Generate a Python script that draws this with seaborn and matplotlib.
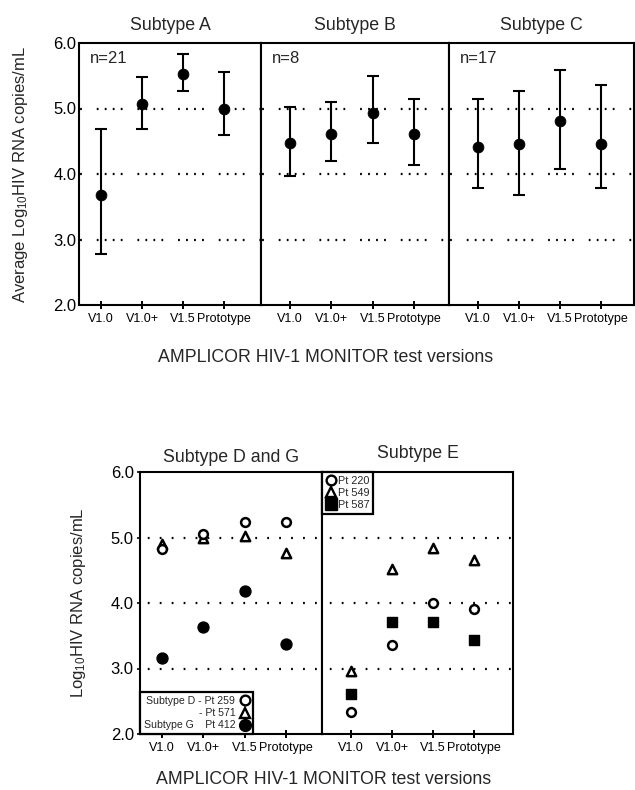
import numpy as np
import pandas as pd
import matplotlib.pyplot as plt
import seaborn as sns
from matplotlib.lines import Line2D

# Values
versions = ["V1.0", "V1.0+", "V1.5", "Prototype"]
top_titles = ["Subtype A", "Subtype B", "Subtype C"]
n_labels = ["n=21", "n=8", "n=17"]

mean_a = [3.68, 5.07, 5.53, 4.99]
low_a = [2.78, 4.69, 5.27, 4.59]
high_a = [4.69, 5.48, 5.83, 5.56]

mean_b = [4.47, 4.61, 4.93, 4.61]
low_b = [3.97, 4.20, 4.47, 4.14]
high_b = [5.02, 5.10, 5.50, 5.15]

mean_c = [4.41, 4.46, 4.81, 4.46]
low_c = [3.79, 3.68, 4.08, 3.79]
high_c = [5.15, 5.26, 5.59, 5.36]

bottom_titles = ["Subtype D and G", "Subtype E"]
pt259 = [4.82, 5.05, 5.24, 5.24]
pt571 = [4.90, 4.99, 5.02, 4.76]
pt412 = [3.16, 3.63, 4.18, 3.37]
pt220 = [2.34, 3.36, 4.00, 3.91]
pt549 = [2.96, 4.52, 4.84, 4.66]
pt587 = [2.61, 3.71, 3.71, 3.43]

sns.set_theme(style="ticks")
plt.rcParams['font.family'] = ['Liberation Sans', 'DejaVu Sans']
plt.rcParams['mathtext.fontset'] = 'custom'
plt.rcParams['mathtext.rm'] = 'Liberation Sans'
plt.rcParams['mathtext.it'] = 'Liberation Sans:italic'
plt.rcParams['lines.scale_dashes'] = False

W, H = 635, 790
fig = plt.figure(figsize=(W / 100, H / 100), dpi=100)


def box(l, t, r, b):
    return [l / W, 1 - b / H, (r - l) / W, (b - t) / H]


def style_axes(ax, xlim, show_y, dots, ytick_len):
    ax.set_xlim(*xlim)
    ax.set_ylim(2.0, 6.0)
    ax.set_xticks(range(len(versions)))
    ax.set_xticklabels(versions, fontsize=9)
    ax.set_yticks([2, 3, 4, 5, 6])
    ax.set_yticklabels(["2.0", "3.0", "4.0", "5.0", "6.0"], fontsize=12)
    ax.tick_params(axis='x', direction='inout', length=6, width=1.4, pad=2.5, colors='black')
    ax.tick_params(axis='y', length=ytick_len, width=1.2, pad=2, colors='black')
    if not show_y:
        ax.tick_params(axis='y', left=False, labelleft=False)
    for sp in ax.spines.values():
        sp.set_visible(True)
        sp.set_linewidth(1.5)
        sp.set_color('black')
    for yv in [3, 4, 5]:
        ax.axhline(yv, color='black', lw=1.6, linestyle=dots, zorder=0)
    ax.set(xlabel='', ylabel='')


# ---------------- top figure ----------------
top_boxes = [(79, 43, 261, 305), (261, 43, 449, 305), (449, 43, 634, 305)]
top_xlims = [(-0.54, 3.90), (-0.70, 3.85), (-0.71, 3.80)]
top_data = [(mean_a, low_a, high_a), (mean_b, low_b, high_b), (mean_c, low_c, high_c)]
group_dots = (16.5, (1.3, 4.46, 1.3, 4.46, 1.3, 4.46, 1.3, 10.7))

top_axes = []
for i, (m, lo, hi) in enumerate(top_data):
    ax = fig.add_axes(box(*top_boxes[i]))
    df = pd.DataFrame({'pos': np.arange(len(versions)), 'mean': m, 'low': lo, 'high': hi})
    ax.errorbar(df['pos'], df['mean'],
                yerr=[df['mean'] - df['low'], df['high'] - df['mean']],
                fmt='none', ecolor='black', elinewidth=1.5, capsize=4.5, capthick=1.5, zorder=2)
    sns.scatterplot(data=df, x='pos', y='mean', ax=ax, s=60, color='black',
                    edgecolor='black', zorder=3, legend=False)
    style_axes(ax, top_xlims[i], i == 0, group_dots, 0)
    ax.set_title(top_titles[i], fontsize=12.8, pad=9)
    ax.text(0.06, 0.94, n_labels[i], transform=ax.transAxes, fontsize=12,
            ha='left', va='center')
    top_axes.append(ax)

top_axes[0].set_ylabel("Average Log$_{10}$HIV RNA copies/mL", fontsize=12)
top_axes[0].yaxis.set_label_coords(-0.27, 0.5)
fig.text(326 / W, 1 - 357 / H, "AMPLICOR HIV-1 MONITOR test versions",
         ha='center', va='center', fontsize=12.8)

# ---------------- bottom figure ----------------
even_dots = (3.0, (1.3, 7.3))
ax_dg = fig.add_axes(box(140, 472, 322, 734))
ax_e = fig.add_axes(box(322, 472, 513, 734))

open_kw = dict(color='white', edgecolor='black', linewidth=1.8)
fill_kw = dict(color='black', edgecolor='black', linewidth=1)
pos = np.arange(len(versions))

sns.scatterplot(x=pos, y=pt571, ax=ax_dg, marker='^', s=45, zorder=3, **open_kw)
sns.scatterplot(x=pos, y=pt259, ax=ax_dg, marker='o', s=40, zorder=4, **open_kw)
sns.scatterplot(x=pos, y=pt412, ax=ax_dg, marker='o', s=62, zorder=3, **fill_kw)

sns.scatterplot(x=pos, y=pt220, ax=ax_e, marker='o', s=40, zorder=3, **open_kw)
sns.scatterplot(x=pos, y=pt549, ax=ax_e, marker='^', s=45, zorder=3, **open_kw)
sns.scatterplot(x=pos, y=pt587, ax=ax_e, marker='s', s=52, zorder=3, **fill_kw)

style_axes(ax_dg, (-0.53, 3.87), True, even_dots, 2.5)
style_axes(ax_e, (-0.71, 3.95), False, even_dots, 2.5)
ax_dg.set_title(bottom_titles[0], fontsize=12.8, pad=7)
ax_e.set_title(bottom_titles[1], fontsize=12.8, pad=10)
ax_dg.set_ylabel("Log$_{10}$HIV RNA copies/mL", fontsize=12)
ax_dg.yaxis.set_label_coords(-0.285, 0.5)

h_open_c = Line2D([], [], marker='o', ls='none', mfc='white', mec='black', mew=1.7, ms=7)
h_open_t = Line2D([], [], marker='^', ls='none', mfc='white', mec='black', mew=1.7, ms=7.5)
h_fill_c = Line2D([], [], marker='o', ls='none', mfc='black', mec='black', ms=8.5)
h_fill_s = Line2D([], [], marker='s', ls='none', mfc='black', mec='black', ms=8)

leg_kw = dict(frameon=True, fancybox=False, framealpha=1, edgecolor='black',
              borderaxespad=0, handlelength=0.9, labelspacing=0.2, borderpad=0.35)
leg = ax_dg.legend([h_open_c, h_open_t, h_fill_c],
                   ["Subtype D - Pt 259", "- Pt 571", "Subtype G    Pt 412"],
                   loc='lower left', markerfirst=False, fontsize=7.6,
                   handletextpad=0.45, **leg_kw)
leg.get_frame().set_linewidth(1.6)

leg2 = ax_e.legend([h_open_c, h_open_t, h_fill_s], ["Pt 220", "Pt 549", "Pt 587"],
                   loc='upper left', markerfirst=True, fontsize=7.8,
                   handletextpad=0.2, **leg_kw)
leg2.get_frame().set_linewidth(1.6)

fig.text(324 / W, 1 - 780 / H, "AMPLICOR HIV-1 MONITOR test versions",
         ha='center', va='center', fontsize=12.8)

fig.savefig("out.png", dpi=100)
